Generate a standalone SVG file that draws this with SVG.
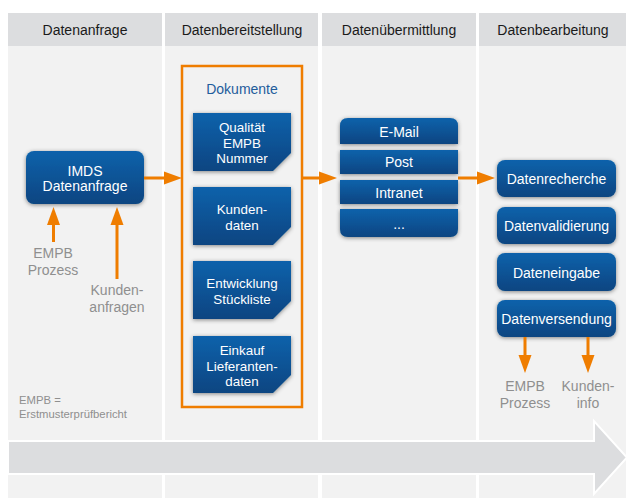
<svg xmlns="http://www.w3.org/2000/svg" width="626" height="498" viewBox="0 0 626 498">
<defs>
<style>
.hdr{fill:#dcdddf}
.body{fill:#f2f2f2}
.ht{font-family:"Liberation Sans",Arial,sans-serif;font-size:14px;fill:#1a1a1a;text-anchor:middle}
.wt{font-family:"Liberation Sans",Arial,sans-serif;font-size:14px;fill:#ffffff;text-anchor:middle}
.dt{font-family:"Liberation Sans",Arial,sans-serif;font-size:13.4px;fill:#ffffff;text-anchor:middle}
.gt{font-family:"Liberation Sans",Arial,sans-serif;font-size:14px;fill:#8f8f8f;text-anchor:middle}
.ft{font-family:"Liberation Sans",Arial,sans-serif;font-size:11.3px;fill:#8f8f8f}
.box{fill:url(#bg);filter:url(#sh)}
.con{stroke:#ef7d00;stroke-width:3;fill:none}
</style>
<linearGradient id="bg" x1="0" y1="0" x2="0" y2="1">
<stop offset="0" stop-color="#0b62ab"/>
<stop offset="1" stop-color="#074581"/>
</linearGradient>
<filter id="sh" x="-20%" y="-30%" width="140%" height="160%">
<feDropShadow dx="0" dy="1" stdDeviation="2" flood-color="#000" flood-opacity="0.45"/>
</filter>
<marker id="ah" markerWidth="18" markerHeight="14" refX="0" refY="7" orient="auto" markerUnits="userSpaceOnUse">
<path d="M0,0.5 L18,7 L0,13.5 Z" fill="#ef7d00"/>
</marker>
</defs>
<rect width="626" height="498" fill="#ffffff"/>
<g id="columns">
<rect class="hdr" x="8" y="13" width="154" height="33"/>
<rect class="body" x="8" y="46" width="154" height="452"/>
<rect class="hdr" x="165" y="13" width="153" height="33"/>
<rect class="body" x="165" y="46" width="153" height="452"/>
<rect class="hdr" x="322" y="13" width="154" height="33"/>
<rect class="body" x="322" y="46" width="154" height="452"/>
<rect class="hdr" x="479" y="13" width="147" height="33"/>
<rect class="body" x="479" y="46" width="147" height="452"/>
<text class="ht" x="85" y="35">Datenanfrage</text>
<text class="ht" x="242" y="35">Datenbereitstellung</text>
<text class="ht" x="399" y="35">Datenübermittlung</text>
<text class="ht" x="553" y="35">Datenbearbeitung</text>
</g>
<g id="process-arrow">
<path d="M8,441 H594 V421 L627,457.5 L594,494 V474 H8 Z" fill="#dcdddf" stroke="#ffffff" stroke-width="2"/>
</g>
<g id="imds">
<rect class="box" x="26" y="151" width="118" height="53" rx="8"/>
<text class="wt" x="85" y="176">IMDS</text>
<text class="wt" x="85" y="191">Datenanfrage</text>
</g>
<g id="labels-col1">
<text class="gt" x="53" y="258">EMPB</text>
<text class="gt" x="53" y="275">Prozess</text>
<text class="gt" x="117" y="295">Kunden-</text>
<text class="gt" x="117" y="312">anfragen</text>
<text class="ft" x="19" y="404">EMPB =</text>
<text class="ft" x="19" y="418">Erstmusterprüfbericht</text>
</g>
<g id="dokumente">
<rect x="182" y="66" width="120" height="341" fill="none" stroke="#ef7d00" stroke-width="2.5"/>
<text x="242" y="94" text-anchor="middle" font-family="Liberation Sans, Arial, sans-serif" font-size="14" fill="#1f5d9c">Dokumente</text>
</g>
<g id="doc-qualitaet">
<path class="box" d="M193,113 H291 V153 L273,171 H193 Z"/>
<text class="dt" x="242" y="132">Qualität</text>
<text class="dt" x="242" y="147.5">EMPB</text>
<text class="dt" x="242" y="163">Nummer</text>
</g>
<g id="doc-kunden">
<path class="box" d="M193,187 H291 V227 L273,245 H193 Z"/>
<text class="dt" x="242" y="214">Kunden-</text>
<text class="dt" x="242" y="229.5">daten</text>
</g>
<g id="doc-entwicklung">
<path class="box" d="M193,261 H291 V301 L273,319 H193 Z"/>
<text class="dt" x="242" y="288">Entwicklung</text>
<text class="dt" x="242" y="304">Stückliste</text>
</g>
<g id="doc-einkauf">
<path class="box" d="M193,336 H291 V375 L273,393 H193 Z"/>
<text class="dt" x="242" y="355">Einkauf</text>
<text class="dt" x="242" y="370.5">Lieferanten-</text>
<text class="dt" x="242" y="386">daten</text>
</g>
<g id="ch-email">
<path class="box" d="M348,118 H450 Q458,118 458,126 V144 H340 V126 Q340,118 348,118 Z"/>
<text class="wt" x="399" y="137">E-Mail</text>
</g>
<g id="ch-post">
<rect class="box" x="340" y="150" width="118" height="24"/>
<text class="wt" x="399" y="167">Post</text>
</g>
<g id="ch-intranet">
<rect class="box" x="340" y="180" width="118" height="24"/>
<text class="wt" x="399" y="198">Intranet</text>
</g>
<g id="ch-more">
<path class="box" d="M340,209 H458 V229 Q458,237 450,237 H348 Q340,237 340,229 Z"/>
<text class="wt" x="399" y="229">...</text>
</g>
<g id="datenrecherche">
<rect class="box" x="497" y="160" width="119" height="37" rx="8"/>
<text class="wt" x="556.5" y="184">Datenrecherche</text>
</g>
<g id="datenvalidierung">
<rect class="box" x="497" y="207" width="119" height="37" rx="8"/>
<text class="wt" x="556.5" y="231">Datenvalidierung</text>
</g>
<g id="dateneingabe">
<rect class="box" x="497" y="253" width="119" height="38" rx="8"/>
<text class="wt" x="556.5" y="278">Dateneingabe</text>
</g>
<g id="datenversendung">
<rect class="box" x="497" y="300" width="119" height="37" rx="8"/>
<text class="wt" x="556.5" y="324">Datenversendung</text>
</g>
<g id="labels-col4">
<text class="gt" x="525" y="391">EMPB</text>
<text class="gt" x="525" y="408">Prozess</text>
<text class="gt" x="588" y="391">Kunden-</text>
<text class="gt" x="588" y="408">info</text>
</g>
<g id="connectors">
<line class="con" x1="144" y1="178" x2="164" y2="178" marker-end="url(#ah)"/>
<line class="con" x1="302" y1="178" x2="319" y2="178" marker-end="url(#ah)"/>
<line class="con" x1="458" y1="178" x2="477" y2="178" marker-end="url(#ah)"/>
<line class="con" x1="53.5" y1="242" x2="53.5" y2="225" marker-end="url(#ah)"/>
<line class="con" x1="117" y1="279" x2="117" y2="225" marker-end="url(#ah)"/>
<line class="con" x1="525" y1="337" x2="525" y2="355" marker-end="url(#ah)"/>
<line class="con" x1="588" y1="337" x2="588" y2="355" marker-end="url(#ah)"/>
</g>
</svg>
